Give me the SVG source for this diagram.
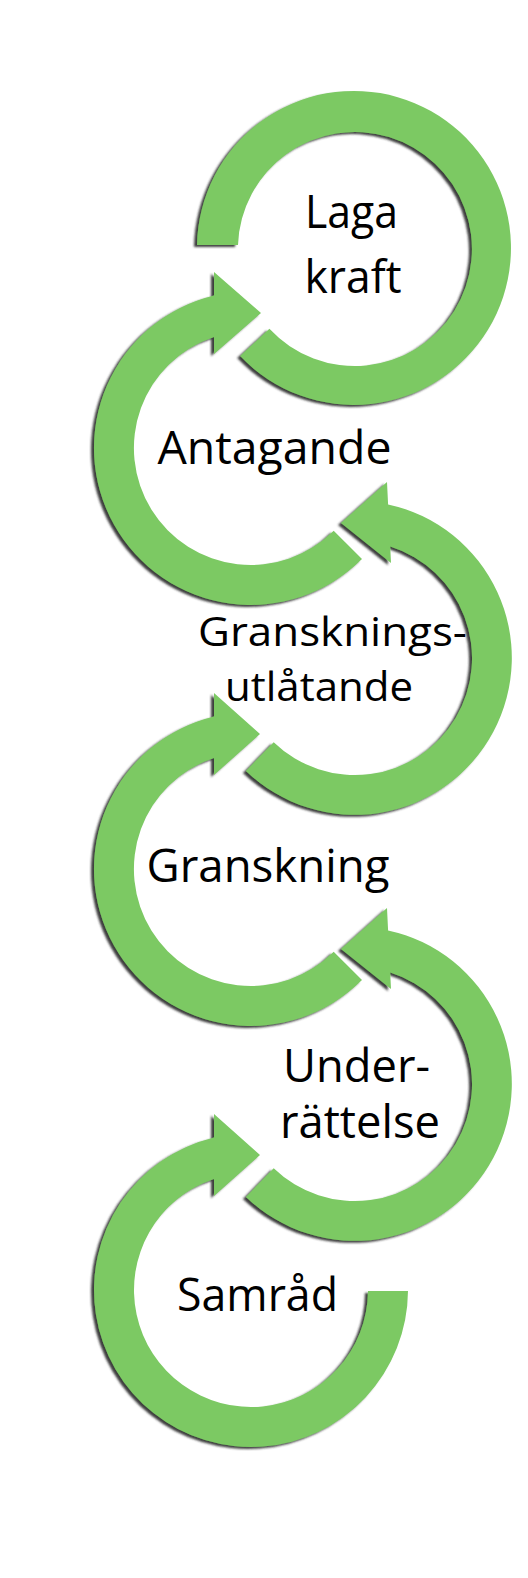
<svg xmlns="http://www.w3.org/2000/svg" width="528" height="1578" viewBox="0 0 528 1578">
  <style>
    .arc { fill: #7cc964; filter: url(#sh); }
    .lbl { font-family: "Open Sans", "Noto Sans", "DejaVu Sans", sans-serif; font-size: 46px; fill: #000; text-anchor: middle; }
    .sm { font-size: 40px; }
  </style>
  <defs>
    <filter id="sh" x="-10%" y="-10%" width="120%" height="120%">
      <feDropShadow dx="-3" dy="2" stdDeviation="1" flood-color="#2a2a2a" flood-opacity="0.9"/>
    </filter>
  </defs>
  <rect x="0" y="0" width="528" height="1578" fill="#ffffff"/>

  <g id="connectors">
    <path id="arc-laga-kraft" class="arc" d="M197,245 A157,157 0 1 1 240.2,356.1 L269.4,328.8 A117,117 0 1 0 238,245 Z"/>
    <path id="arc-antagande" class="arc" d="M362,559 A157,157 0 1 1 214,295.4 L214,272 L261,313 L214,354 L214,337 A117,117 0 1 0 333.7,530.7 Z"/>
    <path id="arc-granskningsutlatande" class="arc" d="M245.9,770.9 A157,157 0 1 0 388.1,504.4 L387,482 L341,523 L391,563 L390.2,546.5 A117,117 0 1 1 273.7,742.2 Z"/>
    <path id="arc-granskning" class="arc" d="M362,980 A157,157 0 1 1 214,716.4 L214,693 L260,734 L214,775 L214,758 A117,117 0 1 0 333.7,951.7 Z"/>
    <path id="arc-underrattelse" class="arc" d="M245.9,1196.9 A157,157 0 1 0 388.1,930.4 L387,908 L341,949 L391,989 L390.2,972.5 A117,117 0 1 1 273.7,1168.2 Z"/>
    <path id="arc-samrad" class="arc" d="M408,1291 A157,157 0 1 1 214,1137.4 L214,1114 L260,1155 L214,1196 L214,1179 A117,117 0 1 0 368,1291 Z"/>
  </g>

  <g id="node-laga-kraft">
    <text class="lbl" x="351.5" y="228" textLength="93" lengthAdjust="spacingAndGlyphs">Laga</text>
    <text class="lbl" x="353" y="293" textLength="97" lengthAdjust="spacingAndGlyphs">kraft</text>
  </g>
  <g id="node-antagande">
    <text class="lbl" x="274.5" y="464" textLength="234" lengthAdjust="spacingAndGlyphs">Antagande</text>
  </g>
  <g id="node-granskningsutlatande">
    <text class="lbl sm" x="332.5" y="646" textLength="269" lengthAdjust="spacingAndGlyphs">Gransknings-</text>
    <text class="lbl sm" x="319" y="701" textLength="188" lengthAdjust="spacingAndGlyphs">utlåtande</text>
  </g>
  <g id="node-granskning">
    <text class="lbl" x="268" y="882" textLength="243" lengthAdjust="spacingAndGlyphs">Granskning</text>
  </g>
  <g id="node-underrattelse">
    <text class="lbl" x="356.5" y="1082" textLength="147" lengthAdjust="spacingAndGlyphs">Under-</text>
    <text class="lbl" x="360" y="1138" textLength="160" lengthAdjust="spacingAndGlyphs">rättelse</text>
  </g>
  <g id="node-samrad">
    <text class="lbl" x="257.5" y="1311" textLength="161" lengthAdjust="spacingAndGlyphs">Samråd</text>
  </g>
</svg>
